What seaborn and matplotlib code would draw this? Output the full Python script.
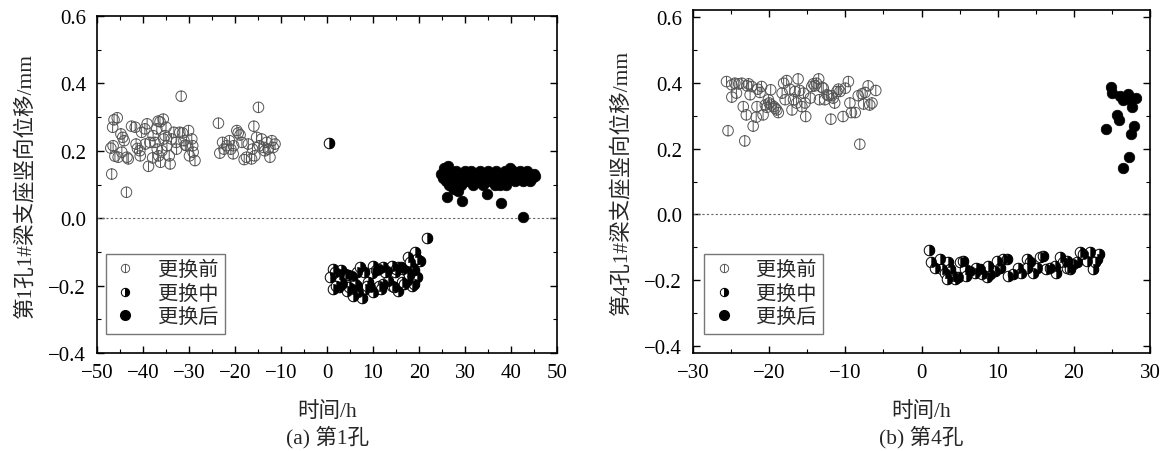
import numpy as np
import pandas as pd
import matplotlib
matplotlib.use("Agg")
import matplotlib.pyplot as plt
import seaborn as sns
from matplotlib.path import Path
from matplotlib.lines import Line2D
from matplotlib.ticker import MultipleLocator

# ---------------- data (time h, displacement mm) ----------------
p1_before = [
    (-47.0, 0.208), (-46.8, 0.131), (-46.6, 0.270), (-46.3, 0.292), (-45.6, 0.298),
    (-46.5, 0.215), (-46.1, 0.184), (-45.4, 0.181), (-44.8, 0.250), (-44.4, 0.240),
    (-44.1, 0.230), (-44.6, 0.196), (-43.5, 0.181), (-43.2, 0.176), (-43.6, 0.077),
    (-42.5, 0.273), (-41.7, 0.270), (-41.5, 0.220), (-41.2, 0.207), (-40.7, 0.200),
    (-40.6, 0.185), (-40.3, 0.255), (-39.6, 0.265), (-39.1, 0.280), (-38.8, 0.154),
    (-39.5, 0.220), (-38.5, 0.225), (-37.8, 0.245), (-37.4, 0.225), (-37.9, 0.179),
    (-37.0, 0.265), (-36.7, 0.288), (-36.3, 0.286), (-35.6, 0.294), (-36.9, 0.205),
    (-36.6, 0.185), (-36.2, 0.166), (-35.9, 0.200), (-35.5, 0.235), (-35.2, 0.245),
    (-35.0, 0.270), (-34.8, 0.215), (-34.3, 0.185), (-34.1, 0.161), (-33.8, 0.235),
    (-33.3, 0.255), (-32.8, 0.225), (-32.7, 0.205), (-32.0, 0.255), (-31.7, 0.362),
    (-31.4, 0.253), (-31.1, 0.230), (-30.8, 0.217), (-30.5, 0.215), (-30.1, 0.260),
    (-29.9, 0.185), (-29.4, 0.235), (-29.2, 0.215), (-28.7, 0.171), (-29.1, 0.196),
    (-23.6, 0.282), (-23.3, 0.193), (-22.7, 0.225), (-22.4, 0.205), (-21.8, 0.215),
    (-21.2, 0.230), (-20.9, 0.205), (-20.4, 0.191), (-20.3, 0.215), (-19.6, 0.260),
    (-19.3, 0.253), (-18.9, 0.247), (-18.5, 0.225), (-18.0, 0.174), (-17.5, 0.181),
    (-17.1, 0.220), (-16.4, 0.176), (-16.2, 0.205), (-15.9, 0.273), (-15.7, 0.185),
    (-15.3, 0.240), (-14.9, 0.329), (-14.7, 0.215), (-14.2, 0.235), (-13.8, 0.210),
    (-13.5, 0.200), (-13.1, 0.225), (-12.8, 0.205), (-12.4, 0.181), (-12.0, 0.230),
    (-11.7, 0.210), (-11.3, 0.220),
]
p1_during = [
    (0.4, 0.223), (21.8, -0.059),
    (1.4, -0.151), (0.7, -0.175), (1.7, -0.161), (2.5, -0.166), (3.9, -0.166),
    (5.4, -0.172), (6.5, -0.161), (7.2, -0.146), (10.1, -0.141), (9.7, -0.163),
    (11.2, -0.151), (12.2, -0.146), (13.0, -0.156), (14.1, -0.141), (14.8, -0.161),
    (15.5, -0.146), (16.6, -0.151), (17.7, -0.116), (18.4, -0.146), (19.1, -0.101),
    (20.2, -0.126), (17.3, -0.156),
    (1.4, -0.210), (2.5, -0.205), (3.2, -0.195), (4.3, -0.215), (5.4, -0.210),
    (6.5, -0.200), (6.8, -0.220), (7.5, -0.238), (8.3, -0.210), (9.3, -0.205),
    (10.1, -0.218), (11.2, -0.200), (12.2, -0.195), (13.3, -0.185), (14.1, -0.200),
    (15.5, -0.215), (16.2, -0.190), (17.3, -0.185), (18.4, -0.200), (9.0, -0.190),
    (5.7, -0.230), (2.8, -0.185),
    (3.0, -0.155), (4.6, -0.170), (8.0, -0.160), (10.6, -0.155), (12.6, -0.160),
    (15.0, -0.150), (16.0, -0.145), (18.0, -0.130), (19.5, -0.120), (2.0, -0.200),
    (4.8, -0.205), (6.0, -0.195), (8.7, -0.200), (11.8, -0.210), (14.6, -0.205),
    (16.7, -0.195), (18.9, -0.195), (19.6, -0.175), (19.0, -0.155), (17.8, -0.170),
]
p1_after = [
    (24.8, 0.13), (25.2, 0.12), (25.5, 0.15), (25.9, 0.11), (26.2, 0.14),
    (26.6, 0.10), (27.0, 0.13), (27.3, 0.09), (27.7, 0.12), (28.0, 0.14),
    (28.4, 0.11), (28.8, 0.13), (29.1, 0.10), (29.5, 0.12), (29.9, 0.14),
    (30.2, 0.11), (30.6, 0.13), (31.0, 0.12), (31.3, 0.14), (31.7, 0.10),
    (32.1, 0.12), (32.4, 0.13), (32.8, 0.11), (33.2, 0.14), (33.5, 0.12),
    (33.9, 0.10), (34.3, 0.13), (34.6, 0.12), (35.0, 0.14), (35.4, 0.11),
    (35.7, 0.13), (36.1, 0.12), (36.5, 0.10), (36.8, 0.14), (37.2, 0.12),
    (37.6, 0.13), (37.9, 0.11), (38.3, 0.12), (38.7, 0.14), (39.0, 0.10),
    (39.4, 0.13), (39.8, 0.15), (40.1, 0.12), (40.5, 0.14), (40.9, 0.11),
    (41.2, 0.13), (41.6, 0.12), (42.0, 0.14), (42.3, 0.13), (42.7, 0.11),
    (43.1, 0.12), (43.4, 0.14), (43.8, 0.13), (44.2, 0.11), (44.5, 0.12),
    (44.9, 0.13), (45.3, 0.125),
    (26.0, 0.062), (29.3, 0.052), (34.7, 0.072), (37.8, 0.045), (42.5, 0.004),
    (29.3, 0.105), (37.6, 0.098), (27.5, 0.087), (28.5, 0.082), (25.6, 0.135),
    (26.3, 0.155),
]

p2_before = [
    (-25.6, 0.403), (-25.4, 0.254), (-24.9, 0.393), (-24.9, 0.356), (-24.5, 0.398),
    (-24.0, 0.396), (-24.3, 0.368), (-23.6, 0.398), (-23.4, 0.327), (-23.2, 0.223),
    (-23.0, 0.302), (-22.9, 0.390), (-22.7, 0.396), (-22.5, 0.363), (-22.3, 0.388),
    (-22.1, 0.268), (-21.7, 0.295), (-21.6, 0.327), (-21.5, 0.380), (-21.2, 0.370),
    (-21.0, 0.388), (-20.8, 0.302), (-20.5, 0.332), (-20.3, 0.325), (-20.1, 0.348),
    (-20.0, 0.338), (-19.8, 0.378), (-19.7, 0.332), (-19.4, 0.327), (-19.2, 0.322),
    (-19.0, 0.317), (-18.8, 0.309), (-18.3, 0.368), (-18.1, 0.398), (-17.7, 0.406),
    (-17.9, 0.348), (-17.3, 0.380), (-17.0, 0.317), (-16.8, 0.348), (-16.6, 0.373),
    (-16.4, 0.338), (-16.2, 0.411), (-16.0, 0.376), (-15.7, 0.327), (-15.5, 0.368),
    (-15.3, 0.338), (-15.2, 0.297), (-14.6, 0.353), (-14.4, 0.388), (-14.2, 0.396),
    (-14.0, 0.390), (-13.8, 0.398), (-13.5, 0.411), (-13.4, 0.348), (-13.1, 0.386),
    (-12.9, 0.383), (-12.7, 0.348), (-12.4, 0.363), (-12.2, 0.360), (-11.9, 0.289),
    (-11.8, 0.360), (-11.6, 0.353), (-11.4, 0.338), (-11.1, 0.373), (-10.9, 0.380),
    (-10.7, 0.373), (-10.3, 0.297), (-10.0, 0.383), (-9.6, 0.403), (-9.4, 0.338),
    (-9.2, 0.309), (-8.7, 0.309), (-8.3, 0.360), (-8.1, 0.213), (-7.8, 0.366),
    (-7.6, 0.335), (-7.4, 0.370), (-7.0, 0.390), (-6.8, 0.332), (-6.5, 0.338),
    (-6.0, 0.376),
]
p2_during = [
    (1.0, -0.107), (1.3, -0.143), (1.8, -0.161), (2.4, -0.135), (2.7, -0.166),
    (3.1, -0.176), (3.5, -0.145), (3.7, -0.166), (4.2, -0.186), (4.4, -0.196),
    (4.8, -0.191), (5.1, -0.145), (5.4, -0.140), (5.7, -0.166), (6.4, -0.171),
    (7.0, -0.176), (7.7, -0.166), (7.9, -0.181), (8.6, -0.191), (9.0, -0.181),
    (9.6, -0.171), (9.9, -0.140), (10.3, -0.161), (10.7, -0.135), (11.2, -0.135),
    (11.4, -0.186), (12.0, -0.181), (12.7, -0.161), (13.1, -0.176), (13.8, -0.135),
    (14.2, -0.145), (14.7, -0.176), (15.1, -0.161), (15.6, -0.130), (16.0, -0.125),
    (16.4, -0.166), (16.9, -0.161), (17.5, -0.155), (18.2, -0.130), (18.6, -0.145),
    (19.1, -0.161), (19.5, -0.166), (19.9, -0.150), (20.4, -0.145), (20.8, -0.115),
    (21.2, -0.120), (21.7, -0.140), (22.1, -0.115), (22.5, -0.166), (23.0, -0.135),
    (23.3, -0.120), (22.8, -0.145), (19.1, -0.140), (5.9, -0.186), (7.2, -0.161),
    (3.3, -0.196), (8.7, -0.155), (13.8, -0.161), (17.7, -0.176),
]
p2_after = [
    (24.9, 0.386), (25.0, 0.368), (26.1, 0.358), (26.5, 0.348), (26.7, 0.353),
    (27.1, 0.365), (27.3, 0.351), (27.7, 0.327), (28.2, 0.353), (25.7, 0.302),
    (25.9, 0.285), (24.2, 0.259), (27.9, 0.268), (27.5, 0.243), (27.3, 0.175),
    (26.4, 0.141),
]

stage_labels = ["更换前", "更换中", "更换后"]
ylabels = ["第1孔1#梁支座竖向位移/mm", "第4孔1#梁支座竖向位移/mm"]
captions = ["(a) 第1孔", "(b) 第4孔"]
xlabel = "时间/h"

# ---------------- style ----------------
sns.set_style("ticks")
plt.rcParams["font.family"] = ["Liberation Serif", "Noto Sans CJK SC", "DejaVu Sans"]
plt.rcParams["axes.unicode_minus"] = True

# custom markers
circ = Path.unit_circle()
vline = Path([[0, -1], [0, 1]], [Path.MOVETO, Path.LINETO])
circ_bar = Path.make_compound_path(circ, vline)
ang = np.linspace(-np.pi / 2, np.pi / 2, 40)
half_verts = np.column_stack([np.cos(ang), np.sin(ang)])
half_verts = np.vstack([half_verts, [[0, -1]]])
half_codes = [Path.MOVETO] + [Path.LINETO] * (len(ang) - 1) + [Path.CLOSEPOLY]
right_half = Path(half_verts, half_codes)


def to_df(pairs):
    return pd.DataFrame(pairs, columns=["t", "y"])


fig = plt.figure(figsize=(11.7, 4.52), dpi=100)
ax1 = fig.add_axes([97 / 1170, 1 - 354 / 452, 460 / 1170, 337 / 452])
ax2 = fig.add_axes([693 / 1170, 1 - 354 / 452, 457 / 1170, 343 / 452])

panels = [
    (ax1, p1_before, p1_during, p1_after, (-50, 50), (-0.4, 0.6), 10, 5, (0.02, 0.055)),
    (ax2, p2_before, p2_during, p2_after, (-30, 30), (-0.42, 0.62), 10, 5, (0.025, 0.055)),
]

S = 58
for i, (ax, bef, dur, aft, xl, yl, xmaj, xmin, lpos) in enumerate(panels):
    ax.axhline(0, color="#666666", lw=0.8, ls=(0, (2, 2)), zorder=1)
    db, dd, da = to_df(bef), to_df(dur), to_df(aft)
    sns.scatterplot(data=db, x="t", y="y", ax=ax, marker=circ_bar, s=S,
                    facecolors="none", edgecolor="#555555", linewidth=0.7, zorder=3)
    sns.scatterplot(data=dd, x="t", y="y", ax=ax, marker="o", s=S,
                    color="white", edgecolor="black", linewidth=0.7, zorder=3)
    sns.scatterplot(data=dd, x="t", y="y", ax=ax, marker=right_half, s=S,
                    color="black", edgecolor="black", linewidth=0.3, zorder=4)
    sns.scatterplot(data=da, x="t", y="y", ax=ax, marker="o", s=S,
                    color="black", edgecolor="black", linewidth=0.5, zorder=3)

    ax.set_xlim(*xl)
    ax.set_ylim(*yl)
    ax.xaxis.set_major_locator(MultipleLocator(xmaj))
    ax.xaxis.set_minor_locator(MultipleLocator(xmin))
    ax.yaxis.set_major_locator(MultipleLocator(0.2))
    ax.yaxis.set_minor_locator(MultipleLocator(0.1))
    ax.tick_params(which="both", direction="in", top=True, right=True,
                   labelsize=15, colors="black")
    ax.tick_params(axis="x", which="major", pad=7)
    ax.tick_params(axis="y", which="major", pad=8)
    ax.tick_params(which="major", length=5, width=1)
    ax.tick_params(which="minor", length=3, width=0.8)
    for sp in ax.spines.values():
        sp.set_visible(True)
        sp.set_color("black")
        sp.set_linewidth(1.2)
    ax.set_xlabel(xlabel, fontsize=15.5, labelpad=14)
    ax.set_ylabel(ylabels[i], fontsize=15.5, labelpad=9)

    handles = [
        Line2D([], [], ls="", marker=circ_bar, markersize=6, markerfacecolor="none",
               markeredgecolor="#555555", markeredgewidth=0.7),
        Line2D([], [], ls="", marker="o", markersize=6, fillstyle="right",
               markerfacecolor="black", markerfacecoloralt="white",
               markeredgecolor="black", markeredgewidth=0.7),
        Line2D([], [], ls="", marker="o", markersize=7, markerfacecolor="black",
               markeredgecolor="black"),
    ]
    leg = ax.legend(handles, stage_labels, loc="lower left", bbox_to_anchor=lpos,
                    fontsize=14.5, frameon=True, fancybox=False, framealpha=1,
                    edgecolor="#777777", handlelength=1.2, handletextpad=1.0,
                    borderpad=0.35, labelspacing=0.22, borderaxespad=0)
    leg.get_frame().set_linewidth(1.0)

fig.text(327 / 1170, 1 - 437 / 452, captions[0], ha="center", va="center", fontsize=15.5)
fig.text(921 / 1170, 1 - 437 / 452, captions[1], ha="center", va="center", fontsize=15.5)

fig.savefig("out.png", dpi=100)
